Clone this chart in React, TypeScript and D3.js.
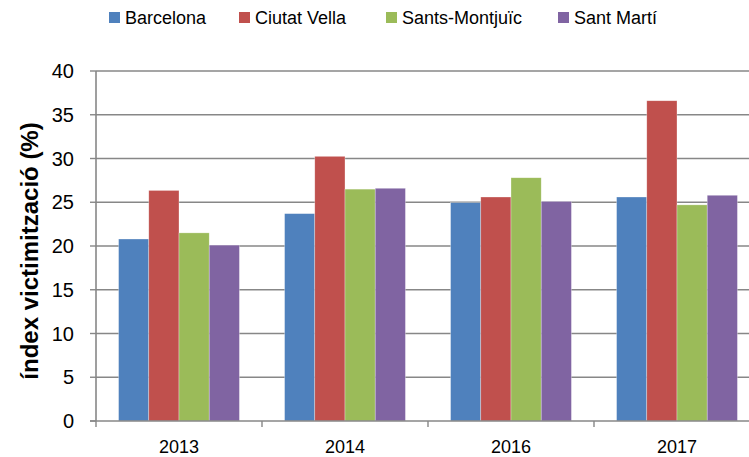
import React from "react";
import * as d3 from "d3";

const years = ["2013", "2014", "2016", "2017"];
const seriesNames = ["Barcelona", "Ciutat Vella", "Sants-Montjuïc", "Sant Martí"];
const barcelona = [20.8, 23.7, 24.95, 25.6];
const ciutatVella = [26.35, 30.25, 25.6, 36.6];
const santsMontjuic = [21.5, 26.5, 27.8, 24.7];
const santMarti = [20.1, 26.6, 25.1, 25.8];
const yTicks = [0, 5, 10, 15, 20, 25, 30, 35, 40];
const colors = ["#4F81BD", "#C0504D", "#9BBB59", "#8064A2"];

const W = 749;
const H = 457;
const left = 96;
const right = 760;
const top = 71;
const bottom = 421;
const FONT = "'Liberation Sans', Arial, sans-serif";

export default function App() {
  const values = [barcelona, ciutatVella, santsMontjuic, santMarti];
  const x = d3.scaleBand<string>().domain(years).range([left, right]).paddingInner(0).paddingOuter(0);
  const gap = x.bandwidth() * 0.136;
  const inner = d3
    .scaleBand<string>()
    .domain(seriesNames)
    .range([gap, x.bandwidth() - gap])
    .paddingInner(0)
    .paddingOuter(0);
  const y = d3.scaleLinear().domain([0, 40]).range([bottom, top]);
  const axisColor = "#878787";
  const legendX = [109, 239, 386, 558];

  return (
    <svg
      width={W}
      height={H}
      style={{ position: "absolute", left: 0, top: 0, background: "#fff" }}
      fontFamily={FONT}
    >
      {yTicks.map((t) => (
        <g key={t}>
          {t > 0 && (
            <line x1={left} x2={W} y1={y(t)} y2={y(t)} stroke={axisColor} strokeWidth={1.6} />
          )}
          <line x1={left - 6} x2={left} y1={y(t)} y2={y(t)} stroke={axisColor} strokeWidth={1.4} />
          <text x={74} y={y(t)} dy="0.35em" textAnchor="end" fontSize={20} fill="#000">
            {t}
          </text>
        </g>
      ))}
      {years.map((yr, i) => (
        <g key={yr}>
          {seriesNames.map((s, j) => (
            <rect
              key={s}
              x={(x(yr) as number) + (inner(s) as number)}
              y={y(values[j][i])}
              width={inner.bandwidth()}
              height={bottom - y(values[j][i])}
              fill={colors[j]}
              stroke="#ffffff"
              strokeOpacity={0.5}
              strokeWidth={0.6}
            />
          ))}
        </g>
      ))}
      <line x1={left} x2={left} y1={top} y2={bottom} stroke={axisColor} strokeWidth={1.6} />
      <line x1={left - 6} x2={W} y1={bottom} y2={bottom} stroke={axisColor} strokeWidth={1.6} />
      {years.map((yr) => (
        <line
          key={"t" + yr}
          x1={x(yr) as number}
          x2={x(yr) as number}
          y1={bottom}
          y2={bottom + 6}
          stroke={axisColor}
          strokeWidth={1.4}
        />
      ))}
      {years.map((yr) => (
        <text
          key={"l" + yr}
          x={(x(yr) as number) + x.bandwidth() / 2}
          y={453}
          textAnchor="middle"
          fontSize={18}
          fill="#000"
        >
          {yr}
        </text>
      ))}
      <text
        transform={`translate(38,251) rotate(-90)`}
        textAnchor="middle"
        fontSize={24}
        fontWeight="bold"
        fill="#000"
      >
        índex victimització (%)
      </text>
      {seriesNames.map((s, j) => (
        <g key={"lg" + s}>
          <rect x={legendX[j]} y={12} width={11} height={11} fill={colors[j]} />
          <text x={legendX[j] + 16} y={18} dy="0.35em" fontSize={18} fill="#000">
            {s}
          </text>
        </g>
      ))}
    </svg>
  );
}
